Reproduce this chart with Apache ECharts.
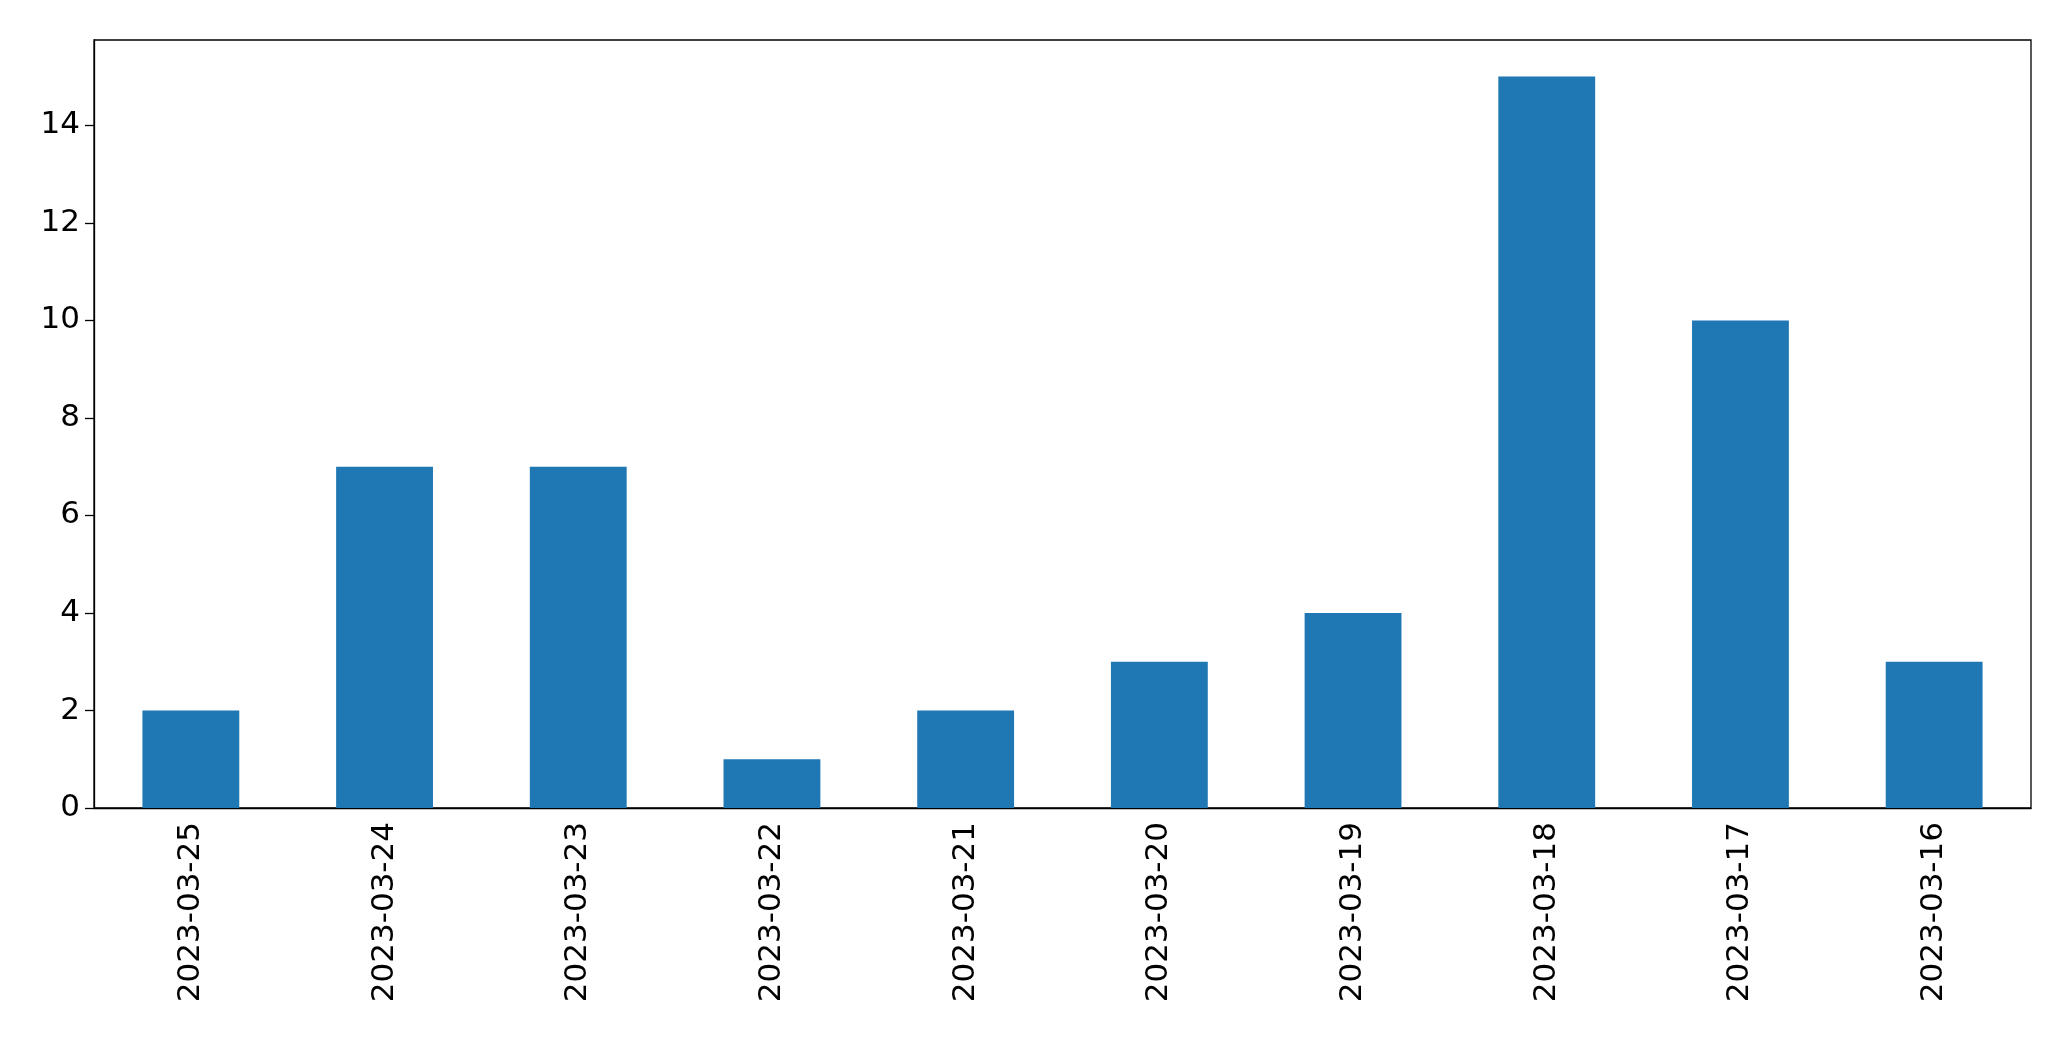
<!DOCTYPE html>
<html>
<head>
<meta charset="utf-8">
<script src="https://cdn.jsdelivr.net/npm/echarts@6/dist/echarts.min.js"></script>
<style>html,body{margin:0;padding:0;background:#fff}#main{width:2071px;height:1061px}</style>
</head>
<body>
<div id="main"></div>
<script>
// 日期和数量
var dates = ['2023-03-25','2023-03-24','2023-03-23','2023-03-22','2023-03-21','2023-03-20','2023-03-19','2023-03-18','2023-03-17','2023-03-16'];
var counts = [2, 7, 7, 1, 2, 3, 4, 15, 10, 3];
var yTicks = [0, 2, 4, 6, 8, 10, 12, 14];

var chart = echarts.init(document.getElementById('main'));
chart.setOption({
    animation: false,
    grid: { left: 94, right: 40, top: 40, bottom: 253, show: true, borderColor: '#000', borderWidth: 1.3 },
    xAxis: {
        type: 'category',
        data: dates,
        axisLine: { lineStyle: { color: '#000', width: 1.3 } },
        axisTick: { alignWithLabel: true, length: 9, lineStyle: { color: '#000', width: 1.3 } },
        axisLabel: { rotate: 90, color: '#000', fontSize: 31, fontFamily: 'DejaVu Sans', margin: 14 }
    },
    yAxis: {
        type: 'value',
        min: 0, max: 15.75, interval: 2,
        splitLine: { show: false },
        axisLine: { show: true, lineStyle: { color: '#000', width: 1.3 } },
        axisTick: { show: true, length: 9, lineStyle: { color: '#000', width: 1.3 } },
        axisLabel: {
            color: '#000', fontSize: 31, fontFamily: 'DejaVu Sans', margin: 14,
            showMaxLabel: false,
            formatter: function (v) { return yTicks.indexOf(v) >= 0 ? String(v) : ''; }
        }
    },
    series: [{
        type: 'bar',
        data: counts,
        barWidth: '50%',
        itemStyle: { color: '#1f77b4' }
    }]
});
</script>
</body>
</html>
